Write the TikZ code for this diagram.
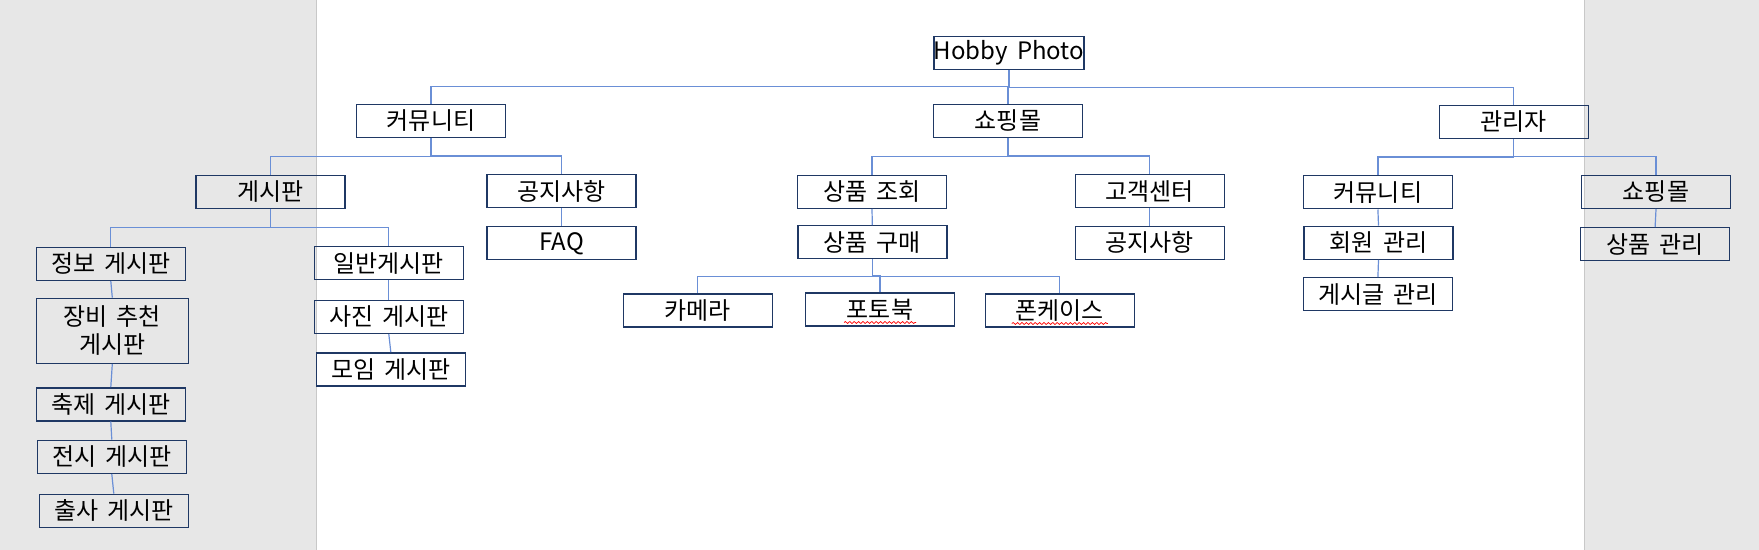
\documentclass[tikz,border=0pt]{standalone}
\usepackage{fontspec}
\setmainfont{Noto Sans CJK KR}[WordSpace=1.7]
\usetikzlibrary{calc, decorations.pathmorphing}

\definecolor{boxline}{HTML}{1F3864}
\definecolor{linkblue}{HTML}{6A8FD6}
\definecolor{sidegray}{HTML}{E7E7E7}
\definecolor{sideline}{HTML}{C8C8C8}

\tikzset{
  menu/.style={draw=boxline, line width=0.7pt, minimum width=74.5pt,
    minimum height=16.5pt, inner sep=1pt, align=center,
    font=\fontsize{12pt}{14pt}\selectfont},
  elbow/.style={linkblue, line width=0.6pt,
    to path={(\tikztostart.south) |- ($(\tikztostart.south)!.5!(\tikztotarget.north)$) -| (\tikztotarget.north)}},
  chain/.style={linkblue, line width=0.6pt,
    to path={(\tikztostart.south) -- (\tikztotarget.north)}},
  spell/.style={red, line width=0.35pt, decorate,
    decoration={snake, amplitude=0.5pt, segment length=2.2pt}}
}

\begin{document}
\begin{tikzpicture}[x=0.5pt, y=-0.5pt]
  \useasboundingbox (0,0) rectangle (1759,550);
  % side panels
  \fill[sidegray] (0,0) rectangle (316,550);
  \fill[sidegray] (1584,0) rectangle (1759,550);
  \draw[sideline, line width=0.5pt] (316,0) -- (316,550) (1584,0) -- (1584,550);

  % top levels
  \node[menu, inner xsep=0pt] (root) at (1009,52.8) {Hobby Photo};
  \node[menu] (comm)  at (431,120.8)   {커뮤니티};
  \node[menu] (shop)  at (1008,120.8)  {쇼핑몰};
  \node[menu] (admin) at (1513.7,121.8) {관리자};

  % community
  \node[menu] (board)   at (270.3,191.8) {게시판};
  \node[menu] (notice)  at (561.6,191.3) {공지사항};
  \node[menu] (faq)     at (561.6,243.3) {FAQ};
  \node[menu] (info)    at (110.8,263.8) {정보 게시판};
  \node[menu, minimum width=76pt, minimum height=32.5pt] (gear) at (112.3,330.8) {장비 추천\\게시판};
  \node[menu] (fest)    at (110.8,404.3) {축제 게시판};
  \node[menu] (exhib)   at (111.8,456.8) {전시 게시판};
  \node[menu] (trip)    at (113.8,510.8) {출사 게시판};
  \node[menu] (general) at (388.8,263.3) {일반게시판};
  \node[menu] (photo)   at (388.8,316.8) {사진 게시판};
  \node[menu] (meet)    at (390.8,369.3) {모임 게시판};

  % shopping mall
  \node[menu] (browse)  at (872,191.8)    {상품 조회};
  \node[menu] (service) at (1149.7,191.3) {고객센터};
  \node[menu] (buy)     at (872.3,242.3)  {상품 구매};
  \node[menu] (cnotice) at (1149.7,242.8) {공지사항};
  \node[menu] (camera)  at (697.8,310.7)  {카메라};
  \node[menu] (book)    at (880,309.7)    {포토북};
  \node[menu] (case)    at (1059.8,310.7) {폰케이스};

  % admin
  \node[menu] (acomm)  at (1377.9,192.3) {커뮤니티};
  \node[menu] (ashop)  at (1656,191.8)   {쇼핑몰};
  \node[menu] (member) at (1378.5,242.8) {회원 관리};
  \node[menu] (post)   at (1377.9,294.3) {게시글 관리};
  \node[menu] (goods)  at (1655.1,244.3) {상품 관리};

  % tree connectors
  \path[elbow] (root) edge (comm) edge (shop) edge (admin)
               (comm) edge (board) edge (notice)
               (board) edge (info) edge (general)
               (shop) edge (browse) edge (service)
               (buy) edge (camera) edge (book) edge (case)
               (admin) edge (acomm) edge (ashop);
  \path[chain] (notice) edge (faq)
               (info) edge (gear)
               (gear) edge (fest)
               (fest) edge (exhib)
               (exhib) edge (trip)
               (general) edge (photo)
               (photo) edge (meet)
               (browse) edge (buy)
               (service) edge (cnotice)
               (acomm) edge (member)
               (member) edge (post)
               (ashop) edge (goods);

  % spell-check marks
  \draw[spell] ([xshift=-18pt,yshift=2.2pt]book.south) -- ([xshift=18pt,yshift=2.2pt]book.south);
  \draw[spell] ([xshift=-24pt,yshift=2.2pt]case.south) -- ([xshift=24pt,yshift=2.2pt]case.south);
\end{tikzpicture}
\end{document}
